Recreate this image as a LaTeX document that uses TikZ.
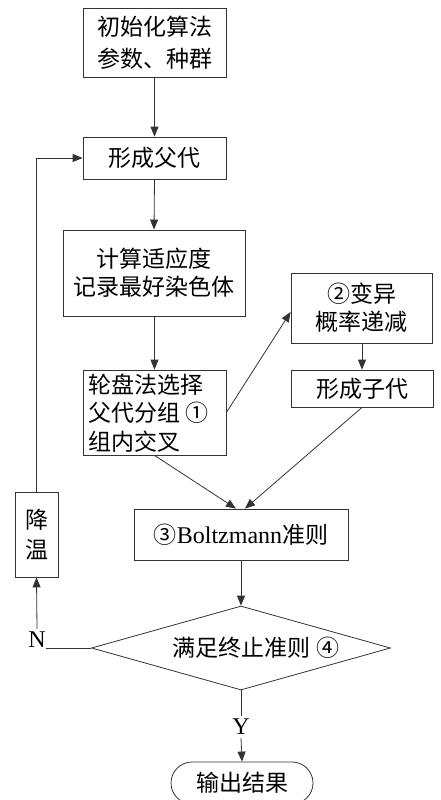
\documentclass[tikz,border=0pt]{standalone}
\usepackage{fontspec}
\setmainfont{Liberation Serif}
\newfontfamily\cjk{Noto Sans CJK SC}
\usetikzlibrary{arrows.meta,shapes.geometric,shapes.misc,calc}
\begin{document}
\begin{tikzpicture}[x=1pt,y=-1pt,
  line/.style={draw=black!80,line width=0.8pt},
  arr/.style={line,-{Triangle[length=10pt,width=8pt]}},
  box/.style={draw=black!80,line width=0.8pt,rectangle,inner sep=0pt,align=center,
    font=\fontsize{23}{30}\selectfont\cjk},
  lbl/.style={inner sep=0pt,font=\fontsize{24}{28}\selectfont\rmfamily}]
\useasboundingbox (0,0) rectangle (440,800);
\begin{scope}
\clip (0,0) rectangle (440,800);
\node[box,minimum width=143pt,minimum height=69pt,font=\fontsize{23}{32}\selectfont\cjk] (b1) at (154.5,42.5) {初始化算法\\参数、种群};
\node[box,minimum width=143pt,minimum height=42pt] (b2) at (154.5,158) {形成父代};
\node[box,minimum width=182pt,minimum height=86pt,font=\fontsize{23}{28}\selectfont\cjk] (b3) at (154,273) {计算适应度\\记录最好染色体};
\node[box,minimum width=143pt,minimum height=85pt] (b4) at (154.5,412.5) {};
\node[inner sep=0pt,align=left,anchor=west,font=\fontsize{23}{28.5}\selectfont\cjk] (t4) at (88,413) {轮盘法选择\\父代分组 ①\\组内交叉};
\node[box,minimum width=141pt,minimum height=70pt,font=\fontsize{23}{28}\selectfont\cjk] (b5) at (361.5,308) {②变异\\概率递减};
\node[box,minimum width=142pt,minimum height=37pt] (b6) at (362,388.5) {形成子代};
\node[box,minimum width=214pt,minimum height=51pt] (b7) at (241,534.5) {③{\fontsize{24}{28}\selectfont\rmfamily Boltzmann}准则};
\node[draw=black!80,line width=0.8pt,diamond,minimum width=299pt,minimum height=84pt,inner sep=0pt] (d) at (241,648) {};
\node[inner sep=0pt,font=\fontsize{23}{28}\selectfont\cjk] (dt) at (256,648) {满足终止准则 ④};
\node[box,minimum width=43pt,minimum height=85pt,font=\fontsize{23}{30}\selectfont\cjk] (b8) at (36.5,534.5) {降\\温};
\node[draw=black!80,line width=0.8pt,rounded rectangle,minimum width=142pt,minimum height=42pt,inner sep=0pt,font=\fontsize{23}{28}\selectfont\cjk] (t) at (242,783) {输出结果};
\node[lbl] (N) at (37,640) {N};
\node[lbl] (Y) at (241,727) {Y};
\coordinate (c1) at (36.5,158);
\draw[arr] (b1.south) -- (b2.north);
\draw[arr] (b2.south) -- (b3.north);
\draw[arr] (b3.south -| b4.north) -- (b4.north);
\draw[arr] (b4.east) -- ($(b5.west)+(0,4)$);
\draw[arr] (b5.south -| b6.north) -- (b6.north);
\draw[arr] (b4.south) -- ($(b7.north)+(-5,0)$);
\draw[arr] (b6.south) -- ($(b7.north)+(4,0)$);
\draw[arr] (b7.south) -- (d.north);
\draw[line] (d.west) -- (N.east |- d.west);
\draw[arr] (N.north) ++(0,-3) -- (b8.south);
\draw[arr] (b8.north) -- (c1) -- (b2.west);
\draw[line] (d.south) -- ($(Y.north)+(0,-3)$);
\draw[arr] ($(Y.south)+(0,3)$) -- (t.north);
\end{scope}
\end{tikzpicture}
\end{document}
